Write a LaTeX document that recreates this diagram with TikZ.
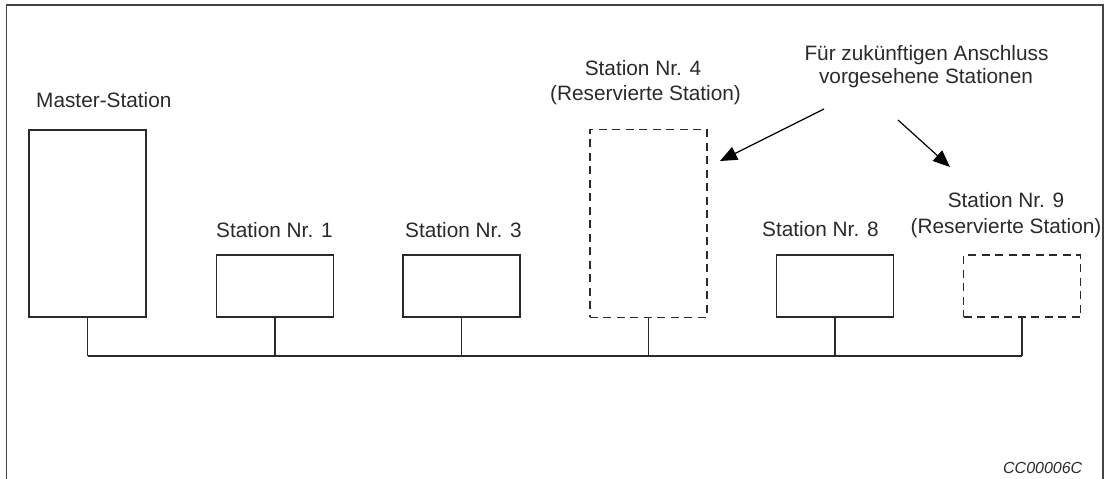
\documentclass[tikz,border=0pt]{standalone}
\usepackage{fontspec}
\setmainfont{Liberation Sans}
\usetikzlibrary{arrows.meta}
\definecolor{ink}{HTML}{2A2A2A}
\definecolor{framec}{HTML}{444444}
\tikzset{
  stbox/.style={draw=ink, line width=1.6pt, inner sep=0pt, minimum width=117pt},
  resbox/.style={stbox, dash pattern=on 8pt off 5.5pt},
  lbl/.style={inner sep=0pt, text=ink, font=\fontsize{20.8}{25}\selectfont},
  wire/.style={draw=ink, line width=1.5pt},
  pointer/.style={draw=black, line width=1.2pt, -{Triangle[length=17pt,width=14pt]}}
}
\begin{document}
\begin{tikzpicture}[x=1pt,y=-1pt]
\useasboundingbox (0,0) rectangle (1111,479);
% frame (open at the bottom)
\draw[framec, line width=1.6pt] (6.5,479) -- (6.5,4.7) -- (1103,4.7) -- (1103,479);

% stations
\node[stbox, minimum height=187pt] (master) at (87.5,223.5) {};
\node[stbox, minimum height=62pt] (s1) at (275,286) {};
\node[stbox, minimum height=62pt] (s3) at (461.5,286) {};
\node[resbox, minimum height=188pt] (s4) at (648.3,223.3) {};
\node[stbox, minimum height=62pt] (s8) at (835,286) {};
\node[resbox, minimum height=62pt] (s9) at (1022,286) {};

% bus
\coordinate (busL) at (87.5,356);
\coordinate (busR) at (1022,356);
\draw[wire] (busL) -- (busR);
\foreach \n in {master,s1,s3,s4,s8,s9}
  \draw[wire] (\n.south) -- (\n.south |- busL);

% labels
\node[lbl, anchor=base west] (lmaster) at (36,107) {Master-Station};
\node[lbl, anchor=base west] (l1) at (216,237) {Station Nr. 1};
\node[lbl, anchor=base west] (l3) at (405,237) {Station Nr. 3};
\node[lbl, anchor=base] (l4a) at (643,75) {Station Nr. 4};
\node[lbl, anchor=base] (l4b) at (645.5,100) {(Reservierte Station)};
\node[lbl, anchor=base west] (l8) at (762,236) {Station Nr. 8};
\node[lbl, anchor=base] (l9a) at (1006,207) {Station Nr. 9};
\node[lbl, anchor=base] (l9b) at (1006,233) {(Reservierte Station)};
\node[lbl, anchor=base] (note1) at (926.5,60) {Für zukünftigen Anschluss};
\node[lbl, anchor=base] (note2) at (926,83.5) {vorgesehene Stationen};
\node[inner sep=0pt, text=ink, anchor=base east, font=\fontsize{16}{19}\selectfont\itshape] (code) at (1082.5,473) {CC00006C};

% pointers
\coordinate (p1s) at (824,109);
\coordinate (p1e) at (720,161);
\coordinate (p2s) at (898,120);
\coordinate (p2e) at (950,167);
\draw[pointer] (p1s) -- (p1e);
\draw[pointer] (p2s) -- (p2e);
\end{tikzpicture}
\end{document}
